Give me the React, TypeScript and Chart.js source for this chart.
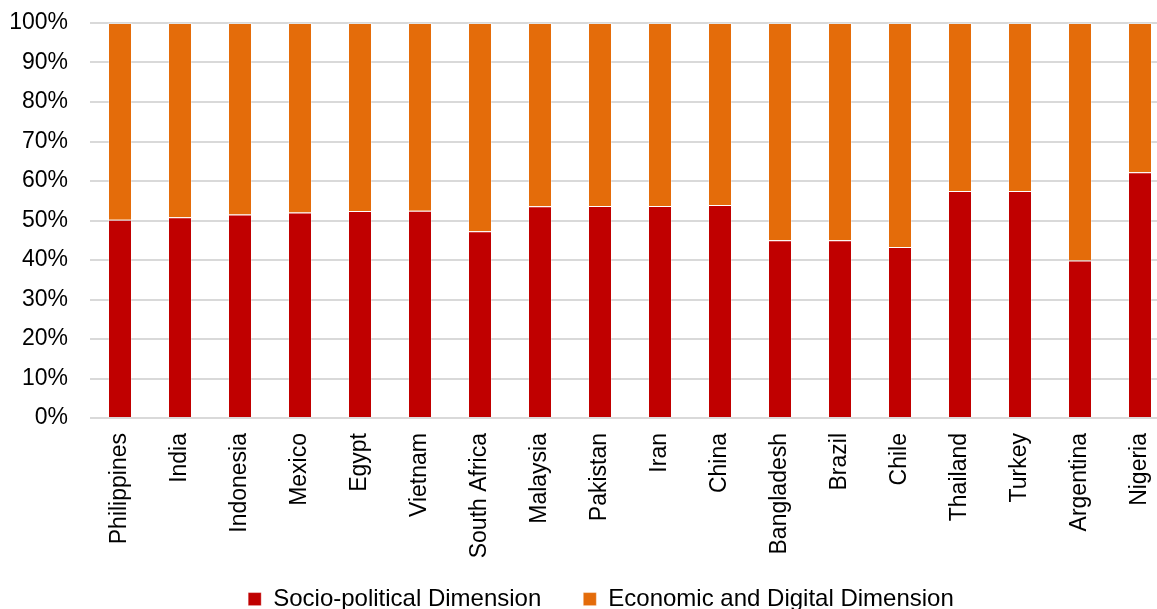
import React, { useEffect, useRef } from 'react';
import { Chart, registerables } from 'chart.js';

Chart.register(...registerables);

const categories = [
  'Philippines', 'India', 'Indonesia', 'Mexico', 'Egypt', 'Vietnam', 'South Africa',
  'Malaysia', 'Pakistan', 'Iran', 'China', 'Bangladesh', 'Brazil', 'Chile',
  'Thailand', 'Turkey', 'Argentina', 'Nigeria',
];

const socioPolitical = [
  50.2, 50.8, 51.5, 52.0, 52.4, 52.5, 47.3, 53.6, 53.7, 53.7, 53.9, 45.0, 45.0, 43.3,
  57.5, 57.5, 39.9, 62.2,
];

const economicDigital = [
  49.8, 49.2, 48.5, 48.0, 47.6, 47.5, 52.7, 46.4, 46.3, 46.3, 46.1, 55.0, 55.0, 56.7,
  42.5, 42.5, 60.1, 37.8,
];

const seriesNames = ['Socio-political Dimension', 'Economic and Digital Dimension'];
const seriesColors = ['#C00000', '#E46C0A'];
const yTicks = [0, 10, 20, 30, 40, 50, 60, 70, 80, 90, 100];

const FONT = '"Liberation Sans", Arial, sans-serif';
const TICK_SIZE = 23;
const LEGEND_SIZE = 24;
const LEGEND_PAD = 42;

// Move the legend so it sits where the reference places it.
const legendPlacement = {
  id: 'legendPlacement',
  afterLayout(chart: any) {
    const l = chart.legend;
    if (!l) return;
    const itemHeight = LEGEND_SIZE * 1.2;
    const top = 601.5 - LEGEND_PAD - itemHeight / 2;
    const dy = top - l.top;
    l.top += dy;
    l.bottom += dy;
    l.left += 16;
    l.right += 16;
  },
};

export default function App() {
  const ref = useRef<HTMLCanvasElement | null>(null);

  useEffect(() => {
    if (!ref.current) return;
    const chart = new Chart(ref.current, {
      type: 'bar',
      data: {
        labels: categories,
        datasets: [
          {
            label: seriesNames[0],
            data: socioPolitical,
            backgroundColor: seriesColors[0],
            borderColor: 'rgba(255,255,255,0.3)',
            borderWidth: 1,
            categoryPercentage: 0.4,
            barPercentage: 1,
          },
          {
            label: seriesNames[1],
            data: economicDigital,
            backgroundColor: seriesColors[1],
            borderColor: 'rgba(255,255,255,0.3)',
            borderWidth: 1,
            categoryPercentage: 0.4,
            barPercentage: 1,
          },
        ],
      },
      plugins: [legendPlacement],
      options: {
        responsive: false,
        animation: false,
        devicePixelRatio: 1,
        layout: { autoPadding: false, padding: { left: 0, right: 0, top: 23, bottom: 0 } },
        plugins: {
          tooltip: { enabled: false },
          legend: {
            position: 'bottom',
            labels: {
              boxWidth: 13,
              boxHeight: 13,
              padding: LEGEND_PAD,
              color: '#000',
              font: { family: FONT, size: LEGEND_SIZE },
            },
          },
        },
        scales: {
          x: {
            stacked: true,
            grid: { display: false, drawTicks: false },
            border: { display: false },
            ticks: {
              autoSkip: false,
              minRotation: 90,
              maxRotation: 90,
              padding: 15,
              color: '#000',
              font: { family: FONT, size: TICK_SIZE },
            },
            afterFit: (scale: any) => {
              scale.height = 145;
              scale.paddingLeft = 0;
              scale.paddingRight = 0;
            },
          },
          y: {
            stacked: true,
            min: 0,
            max: 100,
            afterBuildTicks: (scale: any) => {
              scale.ticks = yTicks.map((v) => ({ value: v }));
            },
            grid: { color: '#d9d9d9', lineWidth: 2, drawTicks: false },
            border: { display: false },
            ticks: {
              padding: 22,
              color: '#000',
              font: { family: FONT, size: TICK_SIZE },
              callback: (v: any) => `${v}%`,
            },
            afterFit: (scale: any) => {
              scale.width = 90;
              scale.paddingTop = 0;
              scale.paddingBottom = 0;
            },
          },
        },
      },
    });
    return () => chart.destroy();
  }, []);

  return (
    <div
      style={{
        position: 'fixed',
        left: 0,
        top: 0,
        width: 1157,
        height: 609,
        overflow: 'hidden',
        background: '#fff',
      }}
    >
      <canvas ref={ref} width={1170} height={639} style={{ display: 'block' }} />
    </div>
  );
}
